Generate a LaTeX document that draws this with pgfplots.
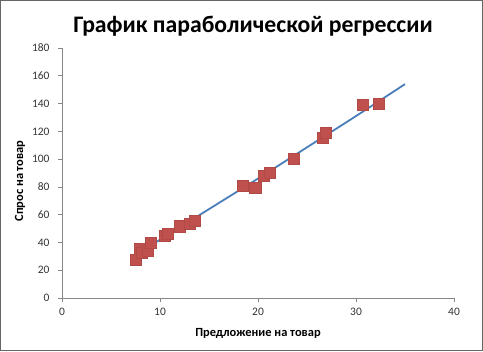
\documentclass[border=0pt]{standalone}
\usepackage{fontspec}
\setmainfont{Carlito}
\usepackage{pgfplots}
\pgfplotsset{compat=1.18}
\definecolor{ptred}{HTML}{C0504D}
\definecolor{lnblue}{HTML}{4A7EBB}
\definecolor{axgray}{HTML}{868686}
\begin{document}
\begin{tikzpicture}[x=1bp,y=1bp]
\useasboundingbox (0,0) rectangle (483,351);
\draw[gray!80!black,line width=0.8bp] (0.5,0.5) rectangle (482.5,350.5);
\node[font=\bfseries\fontsize{23.8}{26}\selectfont] at (253,325) {График параболической регрессии};
\node[font=\bfseries\fontsize{12.5}{14}\selectfont] at (258,18) {Предложение на товар};
\node[font=\bfseries\fontsize{12.5}{14}\selectfont, rotate=90] at (20,170) {Спрос на товар};
\begin{axis}[
  at={(62bp,53bp)}, anchor=origin,
  scale only axis, width=392bp, height=250bp,
  xmin=0, xmax=40, ymin=0, ymax=180,
  xtick={0,10,20,30,40}, ytick={0,20,...,180},
  axis lines*=left,
  axis line style={axgray, line width=0.7bp, -},
  tick style={axgray, line width=0.7bp},
  tick align=outside, major tick length=4bp,
  ticklabel style={font=\fontsize{11.5}{13}\selectfont, text=black!80},
  yticklabel style={xshift=-5bp},
  xticklabel style={yshift=-3bp},
  /pgf/number format/assume math mode=true,
  clip=false,
]
\addplot[lnblue, line width=1.8bp, smooth] coordinates {
(7.5,31) (10,42) (15,64) (20,86) (25,108.5) (30,131) (35,154)
};
\addplot[only marks, mark=square*, mark size=5.6bp, ptred, mark options={draw=ptred!92!black, line width=0.3bp, fill=ptred}] coordinates {
(7.55,27.9) (7.96,35.8) (8.13,32.6) (8.7,34.3) (9.05,39.6)
(10.44,44.9) (10.78,46.6) (11.97,51.8) (13.06,53.8) (13.5,55.9)
(18.4,81.1) (19.7,79.7) (20.6,88.3) (21.2,90.5) (23.6,100.6)
(26.6,115.7) (26.9,119.3) (30.7,139.4) (32.3,140.2)
};
\end{axis}
\end{tikzpicture}
\end{document}
